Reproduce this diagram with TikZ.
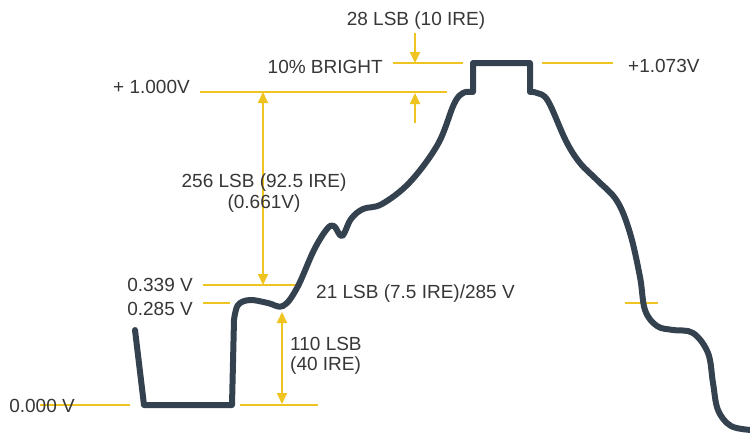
\documentclass[tikz,border=0pt]{standalone}
\usepackage{fontspec}
\setsansfont{Liberation Sans}
\usetikzlibrary{arrows.meta}
\definecolor{vidYellow}{RGB}{240,196,32}
\definecolor{vidSlate}{RGB}{52,66,80}
\definecolor{vidText}{RGB}{55,55,55}
\tikzset{
    base/.style={font=\sffamily\fontsize{19}{20.5}\selectfont, text=vidText, inner sep=1pt},
    note/.style={base, align=center},
    level/.style={vidYellow, line width=2.4pt},
    span/.style={vidYellow, line width=2pt, {Triangle[width=10pt,length=11pt]}-{Triangle[width=10pt,length=11pt]}},
    pointer/.style={vidYellow, line width=2pt, -{Triangle[width=10pt,length=11pt]}},
    signal/.style={vidSlate, line width=6pt, line join=round, line cap=round}
}
\begin{document}
\begin{tikzpicture}[x=1pt, y=-1pt]
  \useasboundingbox[fill=white] (0,0) rectangle (750,432);

  % reference levels
  \draw[level] (40,405) -- (130,405);
  \draw[level] (240,405) -- (318,405);
  \draw[level] (203,303) -- (230,303);
  \draw[level] (203,285) -- (297,285);
  \draw[level] (200,92) -- (447,92);
  \draw[level] (393,63) -- (463,63);
  \draw[level] (542,63) -- (613,63);
  \draw[level] (625,303) -- (658,303);

  % arrow end points
  \coordinate (fullTop) at (263,92);
  \coordinate (fullBot) at (263,285);
  \coordinate (syncTop) at (282,312);
  \coordinate (syncBot) at (282,404);
  \coordinate (brightIn) at (415,33);
  \coordinate (brightTop) at (415,63);
  \coordinate (brightUp) at (415,123);
  \coordinate (brightBot) at (415,93);

  \draw[span] (fullTop) -- (fullBot);
  \draw[span] (syncTop) -- (syncBot);
  \draw[pointer] (brightIn) -- (brightTop);
  \draw[pointer] (brightUp) -- (brightBot);

  % video signal
  \draw[signal] (135,330) -- (144,405) -- (232,405) -- (234,320)
    -- plot[smooth, tension=0.6] coordinates {(234,320) (238,305) (250,300) (268,303) (283,306)
       (297,288) (314,250) (327,229) (334,226) (342,236) (351,219) (363,209) (382,204)
       (410,182) (438,144) (454,104) (463,93) (473,92)}
    -- (473,63) -- (530,63) -- (530,92)
    -- plot[smooth, tension=0.6] coordinates {(530,92) (537,93) (548,101) (566,141) (580,163)
       (597,180) (617,201) (630,233) (640,277) (645,310) (657,326) (673,330) (693,333)
       (708,353) (713,383) (718,410) (731,426) (752,430)};

  % labels
  \node[note] (lsbBright) at (416,21) {28 LSB (10 IRE)};
  \node[base, anchor=east] (bright) at (384,67) {10\% BRIGHT};
  \node[base, anchor=west] (peak) at (627,66) {+1.073V};
  \node[base, anchor=east] (white) at (191,87) {+ 1.000V};
  \node[note] (lsbFull) at (264,193) {256 LSB (92.5 IRE)\\(0.661V)};
  \node[base, anchor=east] (black) at (194,285) {0.339 V};
  \node[base, anchor=east] (blank) at (194,309) {0.285 V};
  \node[base, anchor=west] (lsbSetup) at (315,294) {21 LSB (7.5 IRE)/285 V};
  \node[base, anchor=west, align=left] (lsbSync) at (289,356) {110 LSB\\(40 IRE)};
  \node[base, anchor=east] (zero) at (76,406) {0.000 V};
\end{tikzpicture}
\end{document}
